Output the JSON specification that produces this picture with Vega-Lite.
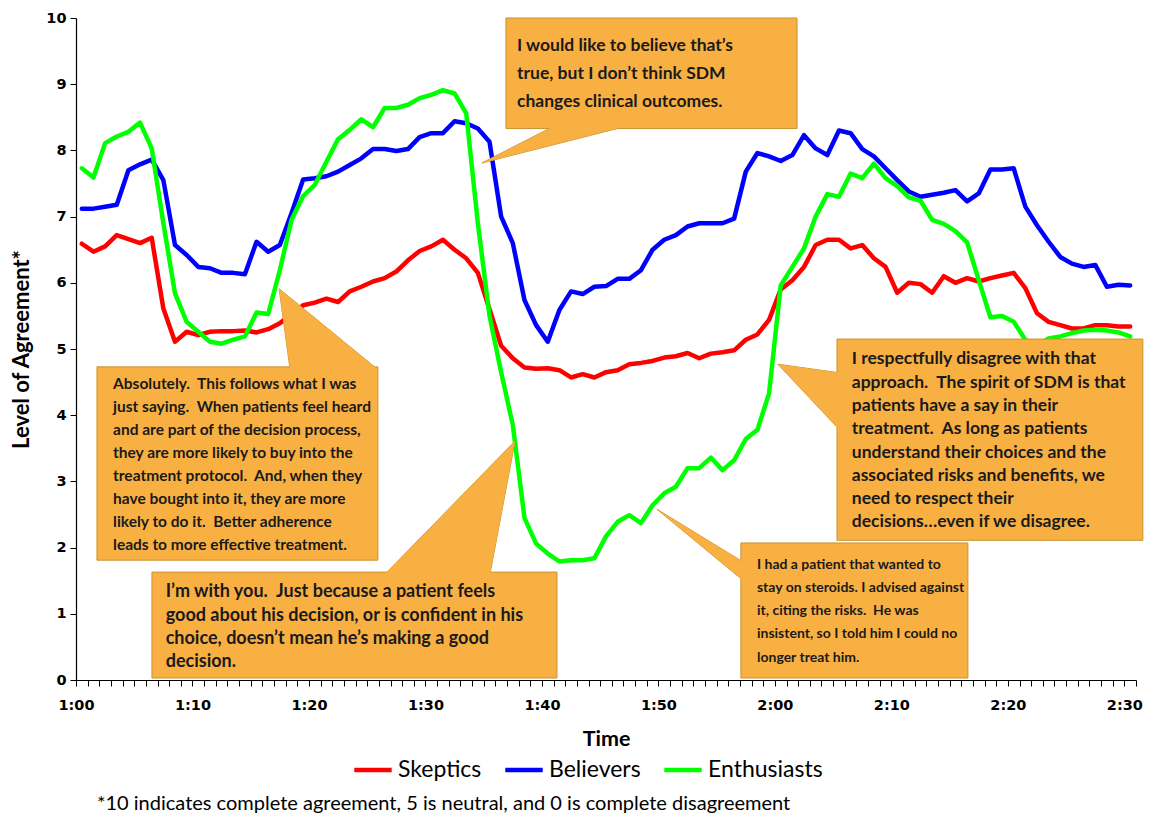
{
  "$schema": "https://vega.github.io/schema/vega-lite/v6.json",
  "width": 1060,
  "height": 662,
  "autosize": {"type": "none"},
  "padding": {"left": 76, "top": 18, "right": 13, "bottom": 137},
  "background": "white",
  "config": {"view": {"stroke": null}, "font": "Lato"},
  "title": {
    "text": "*10 indicates complete agreement, 5 is neutral, and 0 is complete disagreement",
    "orient": "bottom", "anchor": "start", "frame": "group",
    "offset": 12, "dx": 21, "font": "Lato", "fontSize": 20, "fontWeight": "normal", "color": "#000000"
  },
  "datasets": {
    "series": [
      {"t":0,"Skeptics":6.59,"Believers":7.12,"Enthusiasts":7.73},
      {"t":1,"Skeptics":6.47,"Believers":7.12,"Enthusiasts":7.59},
      {"t":2,"Skeptics":6.55,"Believers":7.15,"Enthusiasts":8.11},
      {"t":3,"Skeptics":6.72,"Believers":7.18,"Enthusiasts":8.21},
      {"t":4,"Skeptics":6.66,"Believers":7.70,"Enthusiasts":8.28},
      {"t":5,"Skeptics":6.60,"Believers":7.79,"Enthusiasts":8.42},
      {"t":6,"Skeptics":6.68,"Believers":7.86,"Enthusiasts":8.03},
      {"t":7,"Skeptics":5.61,"Believers":7.55,"Enthusiasts":6.90},
      {"t":8,"Skeptics":5.11,"Believers":6.57,"Enthusiasts":5.84},
      {"t":9,"Skeptics":5.26,"Believers":6.42,"Enthusiasts":5.41},
      {"t":10,"Skeptics":5.21,"Believers":6.24,"Enthusiasts":5.26},
      {"t":11,"Skeptics":5.26,"Believers":6.22,"Enthusiasts":5.11},
      {"t":12,"Skeptics":5.27,"Believers":6.15,"Enthusiasts":5.08},
      {"t":13,"Skeptics":5.27,"Believers":6.15,"Enthusiasts":5.14},
      {"t":14,"Skeptics":5.28,"Believers":6.13,"Enthusiasts":5.19},
      {"t":15,"Skeptics":5.25,"Believers":6.62,"Enthusiasts":5.55},
      {"t":16,"Skeptics":5.30,"Believers":6.47,"Enthusiasts":5.53},
      {"t":17,"Skeptics":5.39,"Believers":6.57,"Enthusiasts":6.19},
      {"t":18,"Skeptics":5.52,"Believers":7.05,"Enthusiasts":6.95},
      {"t":19,"Skeptics":5.66,"Believers":7.56,"Enthusiasts":7.31},
      {"t":20,"Skeptics":5.70,"Believers":7.58,"Enthusiasts":7.48},
      {"t":21,"Skeptics":5.76,"Believers":7.61,"Enthusiasts":7.83},
      {"t":22,"Skeptics":5.71,"Believers":7.68,"Enthusiasts":8.17},
      {"t":23,"Skeptics":5.87,"Believers":7.78,"Enthusiasts":8.31},
      {"t":24,"Skeptics":5.94,"Believers":7.88,"Enthusiasts":8.47},
      {"t":25,"Skeptics":6.02,"Believers":8.02,"Enthusiasts":8.35},
      {"t":26,"Skeptics":6.07,"Believers":8.02,"Enthusiasts":8.64},
      {"t":27,"Skeptics":6.17,"Believers":7.99,"Enthusiasts":8.64},
      {"t":28,"Skeptics":6.34,"Believers":8.02,"Enthusiasts":8.69},
      {"t":29,"Skeptics":6.48,"Believers":8.20,"Enthusiasts":8.79},
      {"t":30,"Skeptics":6.55,"Believers":8.26,"Enthusiasts":8.84},
      {"t":31,"Skeptics":6.65,"Believers":8.26,"Enthusiasts":8.91},
      {"t":32,"Skeptics":6.50,"Believers":8.44,"Enthusiasts":8.86},
      {"t":33,"Skeptics":6.37,"Believers":8.41,"Enthusiasts":8.56},
      {"t":34,"Skeptics":6.15,"Believers":8.33,"Enthusiasts":6.90},
      {"t":35,"Skeptics":5.60,"Believers":8.13,"Enthusiasts":5.50},
      {"t":36,"Skeptics":5.05,"Believers":7.00,"Enthusiasts":4.65},
      {"t":37,"Skeptics":4.86,"Believers":6.60,"Enthusiasts":3.85},
      {"t":38,"Skeptics":4.72,"Believers":5.74,"Enthusiasts":2.45},
      {"t":39,"Skeptics":4.70,"Believers":5.36,"Enthusiasts":2.06},
      {"t":40,"Skeptics":4.71,"Believers":5.11,"Enthusiasts":1.91},
      {"t":41,"Skeptics":4.68,"Believers":5.59,"Enthusiasts":1.79},
      {"t":42,"Skeptics":4.57,"Believers":5.87,"Enthusiasts":1.81},
      {"t":43,"Skeptics":4.62,"Believers":5.83,"Enthusiasts":1.81},
      {"t":44,"Skeptics":4.57,"Believers":5.94,"Enthusiasts":1.84},
      {"t":45,"Skeptics":4.65,"Believers":5.95,"Enthusiasts":2.17},
      {"t":46,"Skeptics":4.68,"Believers":6.06,"Enthusiasts":2.39},
      {"t":47,"Skeptics":4.77,"Believers":6.06,"Enthusiasts":2.49},
      {"t":48,"Skeptics":4.79,"Believers":6.19,"Enthusiasts":2.37},
      {"t":49,"Skeptics":4.82,"Believers":6.50,"Enthusiasts":2.64},
      {"t":50,"Skeptics":4.87,"Believers":6.65,"Enthusiasts":2.82},
      {"t":51,"Skeptics":4.89,"Believers":6.72,"Enthusiasts":2.92},
      {"t":52,"Skeptics":4.94,"Believers":6.85,"Enthusiasts":3.20},
      {"t":53,"Skeptics":4.86,"Believers":6.90,"Enthusiasts":3.20},
      {"t":54,"Skeptics":4.93,"Believers":6.90,"Enthusiasts":3.36},
      {"t":55,"Skeptics":4.95,"Believers":6.90,"Enthusiasts":3.17},
      {"t":56,"Skeptics":4.98,"Believers":6.97,"Enthusiasts":3.32},
      {"t":57,"Skeptics":5.14,"Believers":7.68,"Enthusiasts":3.64},
      {"t":58,"Skeptics":5.22,"Believers":7.96,"Enthusiasts":3.78},
      {"t":59,"Skeptics":5.44,"Believers":7.91,"Enthusiasts":4.33},
      {"t":60,"Skeptics":5.90,"Believers":7.84,"Enthusiasts":5.96},
      {"t":61,"Skeptics":6.04,"Believers":7.93,"Enthusiasts":6.24},
      {"t":62,"Skeptics":6.24,"Believers":8.23,"Enthusiasts":6.52},
      {"t":63,"Skeptics":6.57,"Believers":8.03,"Enthusiasts":7.00},
      {"t":64,"Skeptics":6.65,"Believers":7.93,"Enthusiasts":7.34},
      {"t":65,"Skeptics":6.65,"Believers":8.30,"Enthusiasts":7.30},
      {"t":66,"Skeptics":6.52,"Believers":8.26,"Enthusiasts":7.65},
      {"t":67,"Skeptics":6.57,"Believers":8.02,"Enthusiasts":7.58},
      {"t":68,"Skeptics":6.37,"Believers":7.91,"Enthusiasts":7.80},
      {"t":69,"Skeptics":6.24,"Believers":7.73,"Enthusiasts":7.58},
      {"t":70,"Skeptics":5.85,"Believers":7.55,"Enthusiasts":7.46},
      {"t":71,"Skeptics":6.00,"Believers":7.38,"Enthusiasts":7.29},
      {"t":72,"Skeptics":5.98,"Believers":7.30,"Enthusiasts":7.24},
      {"t":73,"Skeptics":5.85,"Believers":7.33,"Enthusiasts":6.95},
      {"t":74,"Skeptics":6.10,"Believers":7.36,"Enthusiasts":6.89},
      {"t":75,"Skeptics":6.00,"Believers":7.40,"Enthusiasts":6.78},
      {"t":76,"Skeptics":6.07,"Believers":7.23,"Enthusiasts":6.61},
      {"t":77,"Skeptics":6.02,"Believers":7.35,"Enthusiasts":6.04},
      {"t":78,"Skeptics":6.07,"Believers":7.71,"Enthusiasts":5.48},
      {"t":79,"Skeptics":6.11,"Believers":7.71,"Enthusiasts":5.50},
      {"t":80,"Skeptics":6.15,"Believers":7.73,"Enthusiasts":5.41},
      {"t":81,"Skeptics":5.92,"Believers":7.15,"Enthusiasts":5.14},
      {"t":82,"Skeptics":5.54,"Believers":6.87,"Enthusiasts":5.05},
      {"t":83,"Skeptics":5.41,"Believers":6.62,"Enthusiasts":5.16},
      {"t":84,"Skeptics":5.36,"Believers":6.39,"Enthusiasts":5.19},
      {"t":85,"Skeptics":5.31,"Believers":6.29,"Enthusiasts":5.24},
      {"t":86,"Skeptics":5.31,"Believers":6.24,"Enthusiasts":5.28},
      {"t":87,"Skeptics":5.36,"Believers":6.27,"Enthusiasts":5.29},
      {"t":88,"Skeptics":5.36,"Believers":5.94,"Enthusiasts":5.28},
      {"t":89,"Skeptics":5.34,"Believers":5.97,"Enthusiasts":5.25},
      {"t":90,"Skeptics":5.34,"Believers":5.96,"Enthusiasts":5.19}
    ],
    "boxes": [
      {"id":"A","x1":36.41,"x2":61.4,"y1":10.0,"y2":8.33},
      {"id":"B","x1":1.30,"x2":25.42,"y1":4.73,"y2":1.81},
      {"id":"C","x1":6.02,"x2":40.79,"y1":1.63,"y2":0.03},
      {"id":"D","x1":56.58,"x2":76.07,"y1":2.07,"y2":0.03},
      {"id":"E","x1":64.83,"x2":91.09,"y1":5.15,"y2":2.11}
    ],
    "hpointers": [
      {"id":"A","yv":8.36,"xa":40.45,"xb":46.63},
      {"id":"A","yv":7.81,"xa":34.35,"xb":34.35},
      {"id":"B","yv":4.70,"xa":17.87,"xb":25.34},
      {"id":"B","yv":5.91,"xa":16.94,"xb":16.94},
      {"id":"C","yv":1.60,"xa":26.03,"xb":35.04},
      {"id":"C","yv":3.61,"xa":37.19,"xb":37.19}
    ],
    "vpointers": [
      {"id":"D","xv":49.37,"ya":2.58,"yb":2.58},
      {"id":"D","xv":56.8,"ya":1.78,"yb":1.5},
      {"id":"E","xv":59.76,"ya":4.77,"yb":4.77},
      {"id":"E","xv":65.05,"ya":4.64,"yb":3.78}
    ],
    "notes": [
      {"id":"A","x":37.36,"y":9.71,"text":"I would like to believe that’s\ntrue, but I don’t think SDM\nchanges clinical outcomes."},
      {"id":"B","x":2.68,"y":4.58,"text":"Absolutely. \u00a0This follows what I was\njust saying. \u00a0When patients feel heard\nand are part of the decision process,\nthey are more likely to buy into the\ntreatment protocol. \u00a0And, when they\nhave bought into it, they are more\nlikely to do it. \u00a0Better adherence\nleads to more effective treatment."},
      {"id":"C","x":7.2,"y":1.46,"text":"\u00a0I’m with you. \u00a0Just because a patient feels\ngood about his decision, or is confident in his\nchoice, doesn’t mean he’s making a good\ndecision."},
      {"id":"D","x":57.96,"y":1.85,"text":"\u00a0I had a patient that wanted to\nstay on steroids. I advised against\nit, citing the risks. \u00a0He was\ninsistent, so I told him I could no\nlonger treat him."},
      {"id":"E","x":66.1,"y":4.98,"text":"I respectfully disagree with that\napproach. \u00a0The spirit of SDM is that\npatients have a say in their\ntreatment. \u00a0As long as patients\nunderstand their choices and the\nassociated risks and benefits, we\nneed to respect their\ndecisions…even if we disagree."}
    ]
  },
  "layer": [
    {
      "data": {"name": "series"},
      "transform": [{"fold": ["Skeptics", "Believers", "Enthusiasts"], "as": ["group", "value"]}],
      "mark": {"type": "line", "strokeWidth": 4.5, "strokeJoin": "round", "strokeCap": "round"},
      "encoding": {
        "x": {
          "field": "t", "type": "quantitative",
          "scale": {"domain": [-0.5, 90.5], "nice": false, "zero": false},
          "axis": {
            "values": [-0.5,0.5,1.5,2.5,3.5,4.5,5.5,6.5,7.5,8.5,9.5,10.5,11.5,12.5,13.5,14.5,15.5,16.5,17.5,18.5,19.5,20.5,21.5,22.5,23.5,24.5,25.5,26.5,27.5,28.5,29.5,30.5,31.5,32.5,33.5,34.5,35.5,36.5,37.5,38.5,39.5,40.5,41.5,42.5,43.5,44.5,45.5,46.5,47.5,48.5,49.5,50.5,51.5,52.5,53.5,54.5,55.5,56.5,57.5,58.5,59.5,60.5,61.5,62.5,63.5,64.5,65.5,66.5,67.5,68.5,69.5,70.5,71.5,72.5,73.5,74.5,75.5,76.5,77.5,78.5,79.5,80.5,81.5,82.5,83.5,84.5,85.5,86.5,87.5,88.5,89.5,90.5],
            "tickCount": 200,
            "labelExpr": "(datum.value + 0.5) % 10 == 0 ? (floor((datum.value + 60.5) / 60) + ':' + (((datum.value + 60.5) % 60) < 10 ? '0' : '') + ((datum.value + 60.5) % 60)) : ''",
            "labelDx": 5.8,
            "labelOverlap": false, "labelFlush": false,
            "labelFont": "DejaVu Sans", "labelFontSize": 14.5, "labelFontWeight": "bold", "labelColor": "#000000",
            "labelPadding": 12,
            "tickSize": 6, "tickColor": "#000000", "domainColor": "#000000", "domainWidth": 1.2,
            "grid": false,
            "title": "Time", "titleFont": "Lato", "titleFontSize": 21.5, "titleFontWeight": "bold", "titleColor": "#000000", "titlePadding": 17
          }
        },
        "y": {
          "field": "value", "type": "quantitative",
          "scale": {"domain": [0, 10], "nice": false},
          "axis": {
            "values": [0,1,2,3,4,5,6,7,8,9,10],
            "format": "d",
            "labelFont": "DejaVu Sans", "labelFontSize": 14.5, "labelFontWeight": "bold", "labelColor": "#000000",
            "labelPadding": 4,
            "tickSize": 6, "tickColor": "#000000", "domainColor": "#000000", "domainWidth": 1.2,
            "grid": false,
            "title": "Level of Agreement*", "titleFont": "Lato", "titleFontSize": 22, "titleFontWeight": "bold", "titleColor": "#000000", "titlePadding": 12
          }
        },
        "color": {
          "field": "group", "type": "nominal",
          "scale": {"domain": ["Skeptics", "Believers", "Enthusiasts"], "range": ["#FF0000", "#0000FF", "#00FF00"]},
          "legend": {
            "title": null, "orient": "none", "direction": "horizontal",
            "legendX": 276, "legendY": 731,
            "symbolType": "stroke", "symbolSize": 1400, "symbolStrokeWidth": 4.5,
            "labelFont": "Lato", "labelFontSize": 23, "labelColor": "#000000", "labelOffset": 4,
            "columnPadding": 14
          }
        },
        "detail": {"field": "group"}
      }
    },
    {
      "data": {"name": "hpointers"},
      "mark": {"type": "area", "orient": "horizontal", "fill": "#F9B043", "stroke": "#C8922E", "strokeWidth": 1, "opacity": 1, "fillOpacity": 1},
      "encoding": {
        "y": {"field": "yv", "type": "quantitative"},
        "x": {"field": "xa", "type": "quantitative"},
        "x2": {"field": "xb"},
        "detail": {"field": "id"}
      }
    },
    {
      "data": {"name": "vpointers"},
      "mark": {"type": "area", "orient": "vertical", "fill": "#F9B043", "stroke": "#C8922E", "strokeWidth": 1, "opacity": 1, "fillOpacity": 1},
      "encoding": {
        "x": {"field": "xv", "type": "quantitative"},
        "y": {"field": "ya", "type": "quantitative"},
        "y2": {"field": "yb"},
        "detail": {"field": "id"}
      }
    },
    {
      "data": {"name": "boxes"},
      "mark": {"type": "rect", "fill": "#F9B043", "stroke": "#C8922E", "strokeWidth": 1},
      "encoding": {
        "x": {"field": "x1", "type": "quantitative"},
        "x2": {"field": "x2"},
        "y": {"field": "y1", "type": "quantitative"},
        "y2": {"field": "y2"}
      }
    },
    {
      "data": {"name": "hpointers"},
      "mark": {"type": "area", "orient": "horizontal", "fill": "#F9B043", "strokeWidth": 0, "opacity": 1, "fillOpacity": 1},
      "encoding": {
        "y": {"field": "yv", "type": "quantitative"},
        "x": {"field": "xa", "type": "quantitative"},
        "x2": {"field": "xb"},
        "detail": {"field": "id"}
      }
    },
    {
      "data": {"name": "vpointers"},
      "mark": {"type": "area", "orient": "vertical", "fill": "#F9B043", "strokeWidth": 0, "opacity": 1, "fillOpacity": 1},
      "encoding": {
        "x": {"field": "xv", "type": "quantitative"},
        "y": {"field": "ya", "type": "quantitative"},
        "y2": {"field": "yb"},
        "detail": {"field": "id"}
      }
    },
    {
      "data": {"name": "notes"},
      "transform": [{"filter": "datum.id == 'A'"}],
      "mark": {"type": "text", "align": "left", "baseline": "top", "lineBreak": "\n", "lineHeight": 28, "font": "Lato", "fontSize": 17.5, "fontWeight": "bold", "color": "#1a1a1a"},
      "encoding": {"x": {"field": "x", "type": "quantitative"}, "y": {"field": "y", "type": "quantitative"}, "text": {"field": "text"}}
    },
    {
      "data": {"name": "notes"},
      "transform": [{"filter": "datum.id == 'B'"}],
      "mark": {"type": "text", "align": "left", "baseline": "top", "lineBreak": "\n", "lineHeight": 23, "font": "Lato", "fontSize": 15.5, "fontWeight": "bold", "color": "#1a1a1a"},
      "encoding": {"x": {"field": "x", "type": "quantitative"}, "y": {"field": "y", "type": "quantitative"}, "text": {"field": "text"}}
    },
    {
      "data": {"name": "notes"},
      "transform": [{"filter": "datum.id == 'C'"}],
      "mark": {"type": "text", "align": "left", "baseline": "top", "lineBreak": "\n", "lineHeight": 23.3, "font": "Lato", "fontSize": 18, "fontWeight": "bold", "color": "#1a1a1a"},
      "encoding": {"x": {"field": "x", "type": "quantitative"}, "y": {"field": "y", "type": "quantitative"}, "text": {"field": "text"}}
    },
    {
      "data": {"name": "notes"},
      "transform": [{"filter": "datum.id == 'D'"}],
      "mark": {"type": "text", "align": "left", "baseline": "top", "lineBreak": "\n", "lineHeight": 23.3, "font": "Lato", "fontSize": 14, "fontWeight": "bold", "color": "#1a1a1a"},
      "encoding": {"x": {"field": "x", "type": "quantitative"}, "y": {"field": "y", "type": "quantitative"}, "text": {"field": "text"}}
    },
    {
      "data": {"name": "notes"},
      "transform": [{"filter": "datum.id == 'E'"}],
      "mark": {"type": "text", "align": "left", "baseline": "top", "lineBreak": "\n", "lineHeight": 23.3, "font": "Lato", "fontSize": 17.5, "fontWeight": "bold", "color": "#1a1a1a"},
      "encoding": {"x": {"field": "x", "type": "quantitative"}, "y": {"field": "y", "type": "quantitative"}, "text": {"field": "text"}}
    }
  ]
}
